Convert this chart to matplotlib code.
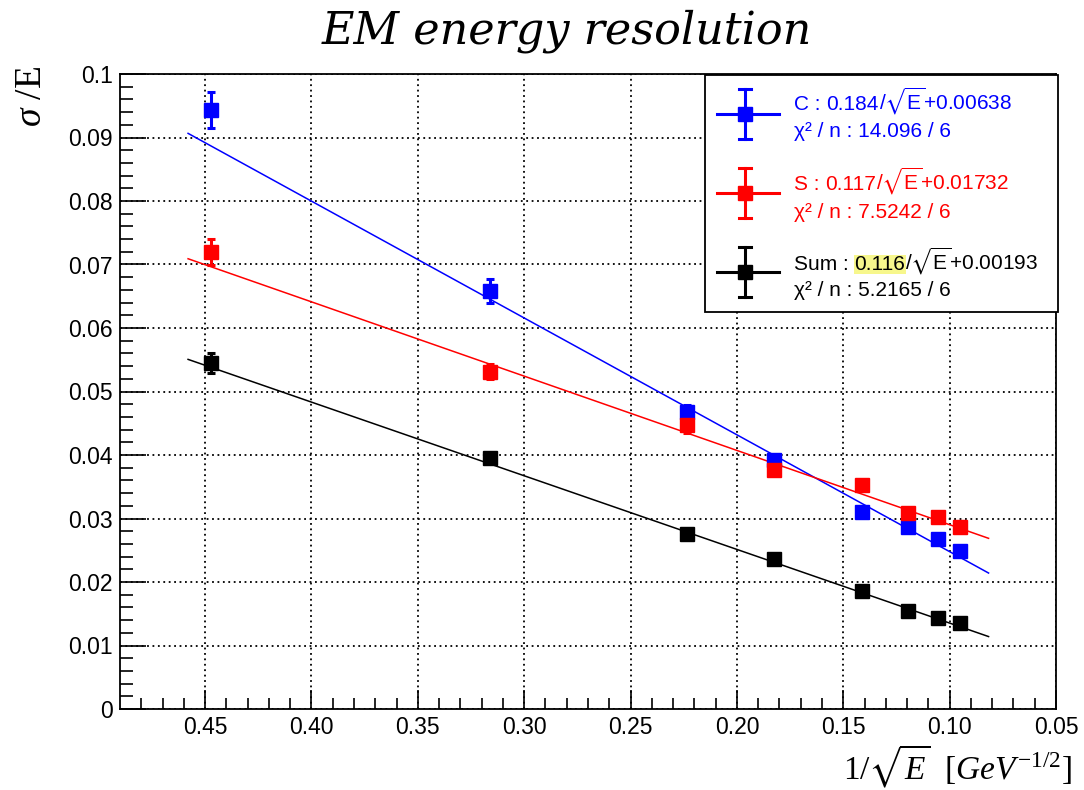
# EM energy resolution: sigma/E vs 1/sqrt(E) with linear fits
import numpy as np
import matplotlib.pyplot as plt
from matplotlib.patches import Rectangle
from matplotlib.lines import Line2D

plt.rcParams['font.family'] = ['Liberation Sans', 'DejaVu Sans']
plt.rcParams['mathtext.fontset'] = 'custom'
plt.rcParams['mathtext.rm'] = 'Liberation Serif'
plt.rcParams['mathtext.it'] = 'Liberation Serif:italic'
plt.rcParams['mathtext.sf'] = 'Liberation Sans'
plt.rcParams['mathtext.fallback'] = 'stix'

# data
inv_sqrt_e = [0.447, 0.316, 0.2236, 0.1826, 0.1414, 0.1195, 0.1054, 0.0953]

res_c = [0.0943, 0.0658, 0.0468, 0.0392, 0.0310, 0.0287, 0.0268, 0.0249]
err_c = [0.0028, 0.0019, 0.0010, 0.0006, 0.0005, 0.0005, 0.0005, 0.0005]

res_s = [0.0720, 0.0531, 0.0447, 0.0376, 0.0353, 0.0309, 0.0302, 0.0287]
err_s = [0.0020, 0.0012, 0.0012, 0.0006, 0.0005, 0.0005, 0.0005, 0.0005]

res_sum = [0.0545, 0.0395, 0.0276, 0.0236, 0.0186, 0.0154, 0.0143, 0.0135]
err_sum = [0.0016, 0.0006, 0.0005, 0.0005, 0.0005, 0.0005, 0.0005, 0.0005]

# fit parameters (slope, constant) shown in the box
fit_c = [0.184, 0.00638]
fit_s = [0.117, 0.01732]
fit_sum = [0.116, 0.00193]
fit_range = [0.458, 0.0817]

chi2_c = '14.096 / 6'
chi2_s = '7.5242 / 6'
chi2_sum = '5.2165 / 6'

xticks = [0.45, 0.40, 0.35, 0.30, 0.25, 0.20, 0.15, 0.10, 0.05]
xtick_labels = ['0.45', '0.40', '0.35', '0.30', '0.25', '0.20', '0.15', '0.10', '0.05']
yticks = [0, 0.01, 0.02, 0.03, 0.04, 0.05, 0.06, 0.07, 0.08, 0.09, 0.1]
ytick_labels = ['0', '0.01', '0.02', '0.03', '0.04', '0.05', '0.06', '0.07', '0.08', '0.09', '0.1']

W, H = 1084, 790
fig = plt.figure(figsize=(W / 100, H / 100), dpi=100)
ax = fig.add_axes([120 / W, 1 - 709 / H, (1056 - 120) / W, (709 - 74) / H])


def fx(px):
    return px / W


def fy(py):
    return 1 - py / H


series = [
    (res_c, err_c, fit_c, '#0000ff'),
    (res_s, err_s, fit_s, '#ff0000'),
    (res_sum, err_sum, fit_sum, '#000000'),
]

for vals, errs, fit, col in series:
    ax.plot(fit_range, np.polyval(fit, fit_range), color=col, lw=1.1, zorder=2)
    ax.errorbar(inv_sqrt_e, vals, yerr=errs, fmt='s', color=col, ms=9.5,
                elinewidth=2.2, capsize=3, capthick=2.2, zorder=3)

ax.set_xlim(0.49, 0.05)
ax.set_ylim(0, 0.1)
ax.set_xticks(xticks)
ax.set_xticklabels(xtick_labels)
ax.set_yticks(yticks)
ax.set_yticklabels(ytick_labels)
ax.set_xticks(np.arange(0.05, 0.49, 0.01), minor=True)
ax.set_yticks(np.arange(0, 0.1, 0.002), minor=True)
ax.tick_params(axis='both', which='both', direction='in', labelsize=16.5)
ax.tick_params(axis='y', which='major', length=19, width=1.2, pad=5)
ax.tick_params(axis='y', which='minor', length=9.5, width=1.2)
ax.tick_params(axis='x', which='major', length=14, width=1.2, pad=5)
ax.tick_params(axis='x', which='minor', length=8, width=1.2)
ax.grid(True, which='major', color='black', lw=1.3, linestyle=(0, (1, 2)))
for sp in ax.spines.values():
    sp.set_linewidth(1.3)

# title and axis labels
fig.text(fx(567), fy(31), 'EM energy resolution', family='DejaVu Serif',
         style='italic', fontsize=32, ha='center', va='center')
fig.text(fx(32), fy(66), r'$\sigma$ /E', family='Liberation Serif',
         fontsize=27, rotation=90, ha='center', va='top')
fig.text(fx(1072), fy(779), r'$1/\sqrt{E}\ \ [GeV^{-1/2}]$',
         fontsize=24, ha='right', va='baseline')

# fit box
fig.add_artist(Rectangle((fx(705), fy(312)), fx(1058) - fx(705), fy(75) - fy(312),
                         transform=fig.transFigure, facecolor='white',
                         edgecolor='black', lw=1.3, zorder=5))

entries = [
    ('C : ', fit_c, '0.00638', chi2_c, '#0000ff', 114, 110, 137),
    ('S : ', fit_s, '0.01732', chi2_s, '#ff0000', 193, 190, 218),
    ('Sum : ', fit_sum, '0.00193', chi2_sum, '#000000', 272, 270, 296),
]

fig.canvas.draw()
renderer = fig.canvas.get_renderer()
for name, fit, const_txt, chi2, col, my, b1, b2 in entries:
    for xs, ys in [([717, 779], [my, my]), ([745, 745], [my - 25, my + 25]),
                   ([739, 751], [my - 25, my - 25]), ([739, 751], [my + 25, my + 25])]:
        fig.add_artist(Line2D([fx(v) for v in xs], [fy(v) for v in ys], color=col,
                              lw=2.2, transform=fig.transFigure, zorder=6))
    fig.add_artist(Line2D([fx(745)], [fy(my)], marker='s', ms=9.5, color=col,
                          transform=fig.transFigure, zorder=7))
    t1 = fig.text(fx(794), fy(b1), name, color=col, fontsize=15,
                  ha='left', va='baseline', zorder=8)
    x1 = t1.get_window_extent(renderer).x1
    hl = dict(facecolor='#f7f78c', edgecolor='none', pad=0.3) if name == 'Sum : ' else None
    t2 = fig.text(x1 / W, fy(b1), '%.3f' % fit[0], color=col, fontsize=15,
                  ha='left', va='baseline', zorder=8, bbox=hl)
    x2 = t2.get_window_extent(renderer).x1
    fig.text(x2 / W, fy(b1), r'/$\sqrt{\mathsf{E}}$+' + const_txt, color=col,
             fontsize=15, ha='left', va='baseline', zorder=8)
    fig.text(fx(794), fy(b2), 'χ² / n : ' + chi2, color=col, fontsize=15,
             ha='left', va='baseline', zorder=8)

plt.savefig('out.png', dpi=100)
